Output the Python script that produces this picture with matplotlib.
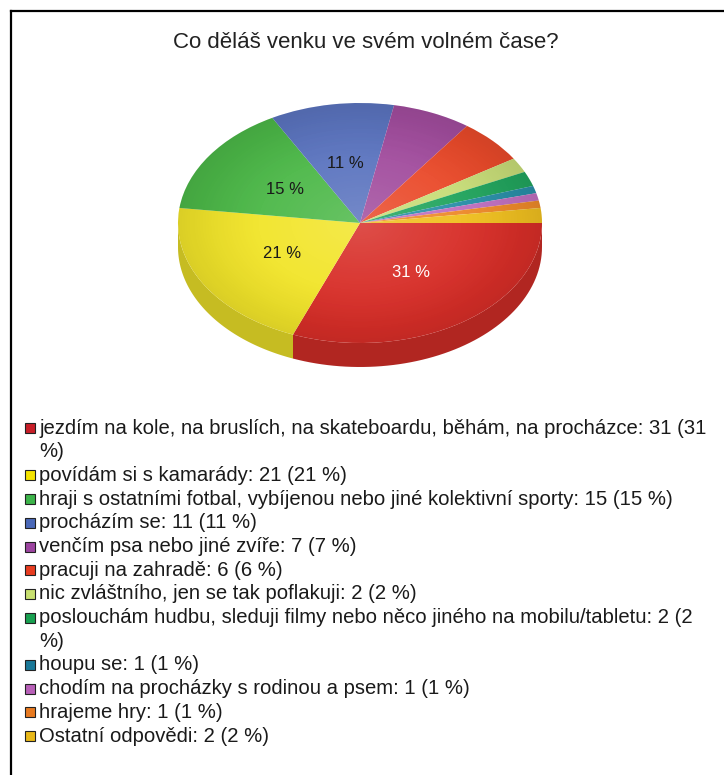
import numpy as np
import matplotlib
matplotlib.use("Agg")
import matplotlib.pyplot as plt
from matplotlib.patches import Rectangle, Polygon, Ellipse
from matplotlib.colors import to_rgb

title = "Co děláš venku ve svém volném čase?"
categories = [
    "jezdím na kole, na bruslích, na skateboardu, běhám, na procházce",
    "povídám si s kamarády",
    "hraji s ostatními fotbal, vybíjenou nebo jiné kolektivní sporty",
    "procházím se",
    "venčím psa nebo jiné zvíře",
    "pracuji na zahradě",
    "nic zvláštního, jen se tak poflakuji",
    "poslouchám hudbu, sleduji filmy nebo něco jiného na mobilu/tabletu",
    "houpu se",
    "chodím na procházky s rodinou a psem",
    "hrajeme hry",
    "Ostatní odpovědi",
]
counts = [31, 21, 15, 11, 7, 6, 2, 2, 1, 1, 1, 2]
percents = [31, 21, 15, 11, 7, 6, 2, 2, 1, 1, 1, 2]
colors = ["#d82e28", "#f2e52a", "#4cb848", "#5b74bf", "#a24d9e", "#ea4a2a",
          "#c8dd78", "#22a55e", "#2a8fa8", "#c070c0", "#ee8a2a", "#f0c020"]
legend_colors = ["#c81e28", "#f5e400", "#3cb44a", "#4a68b8", "#9c44a0", "#e83c20",
                 "#c8e070", "#18a050", "#1a7898", "#b860b8", "#e87a20", "#e8b818"]

plt.rcParams['font.family'] = ['Liberation Sans', 'DejaVu Sans']

W, H = 724, 775
fig = plt.figure(figsize=(W / 100, H / 100), dpi=100)
fig.patch.set_facecolor("white")

# frame lines (top and left)
fig.add_artist(plt.Line2D([11 / W, 1], [1 - 11 / H, 1 - 11 / H], color="black", lw=1.6))
fig.add_artist(plt.Line2D([11 / W, 11 / W], [1 - 11 / H, 0], color="black", lw=1.6))

fig.text(366 / W, 1 - 42 / H, title, ha="center", va="center", fontsize=16, color="#222222")

# pie axes: center (360,223) px, rx=182, ry=120
cx, cy, rx, ry = 360, 223, 182, 120
ax = fig.add_axes([(cx - rx) / W, 1 - (cy + ry) / H, 2 * rx / W, 2 * ry / H])


def darker(c, f=0.82):
    r, g, b = to_rgb(c)
    return (r * f, g * f, b * f)


depth = 24 / ry
total = sum(counts)
# side walls (front half only)
ang = 0.0
for v, c in zip(counts, colors):
    a1 = ang
    a2 = ang - 360.0 * v / total
    ang = a2
    lo, hi = max(a2, -180.0), min(a1, 0.0)
    if hi <= lo:
        continue
    t = np.radians(np.linspace(hi, lo, 60))
    top = np.column_stack([np.cos(t), np.sin(t)])
    bot = np.column_stack([np.cos(t[::-1]), np.sin(t[::-1]) - depth])
    ax.add_patch(Polygon(np.vstack([top, bot]), closed=True, facecolor=darker(c),
                         edgecolor="none", clip_on=False, zorder=1))


def fmt(p):
    return f"{p:.0f} %" if p >= 10 else ""


wedges, texts, autotexts = ax.pie(counts, colors=colors, startangle=0, counterclock=False,
                                  autopct=fmt, pctdistance=0.5,
                                  wedgeprops=dict(linewidth=0, zorder=2),
                                  textprops=dict(fontsize=12, color="#1a1a1a"))
for w in wedges:
    w.set_clip_on(False)
    w.set_zorder(2)
autotexts[0].set_color("white")
for t in autotexts:
    t.set_zorder(5)
ax.set_aspect("auto")
ax.axis("off")

# subtle radial shading over the top face (smooth white centre, dark rim)
n = 300
gx, gy = np.meshgrid(np.linspace(-1, 1, n), np.linspace(-1, 1, n))
rr = np.sqrt(gx ** 2 + gy ** 2)
light = np.zeros((n, n, 4))
light[..., 0:3] = 1.0
light[..., 3] = np.clip(1 - rr, 0, 1) ** 1.5 * 0.16
dark = np.zeros((n, n, 4))
dark[..., 3] = np.clip((rr - 0.5) / 0.5, 0, 1) ** 1.5 * 0.10
for layer in (dark, light):
    im = ax.imshow(layer, extent=(-1, 1, -1, 1), origin="lower", zorder=3,
                   interpolation="bilinear", aspect="auto")
    im.set_clip_path(Ellipse((0, 0), 2, 2, transform=ax.transData))
ax.set_xlim(-1, 1)
ax.set_ylim(-1, 1)

# legend
fs = 14.6
x_sq, x_txt = 25, 39
y0 = 428
dy = 23.7
maxw = 675
renderer = fig.canvas.get_renderer()
row = 0
for name, v, p, lc in zip(categories, counts, percents, legend_colors):
    label = f"{name}: {v} ({p} %)"
    words = label.split(" ")
    lines, cur = [], ""
    for wd in words:
        trial = wd if not cur else cur + " " + wd
        tt = fig.text(0, 0, trial, fontsize=fs)
        wpx = tt.get_window_extent(renderer).width
        tt.remove()
        if wpx > maxw and cur:
            lines.append(cur)
            cur = wd
        else:
            cur = trial
    lines.append(cur)
    y = y0 + row * dy
    fig.add_artist(Rectangle(((x_sq) / W, 1 - (y + 5) / H), 10 / W, 10 / H,
                             facecolor=lc, edgecolor="#222222", lw=0.8,
                             transform=fig.transFigure))
    for i, ln in enumerate(lines):
        fig.text(x_txt / W, 1 - (y + i * dy) / H, ln, fontsize=fs, color="#1a1a1a",
                 ha="left", va="center")
    row += len(lines)

fig.savefig("out.png", dpi=100, facecolor="white")
